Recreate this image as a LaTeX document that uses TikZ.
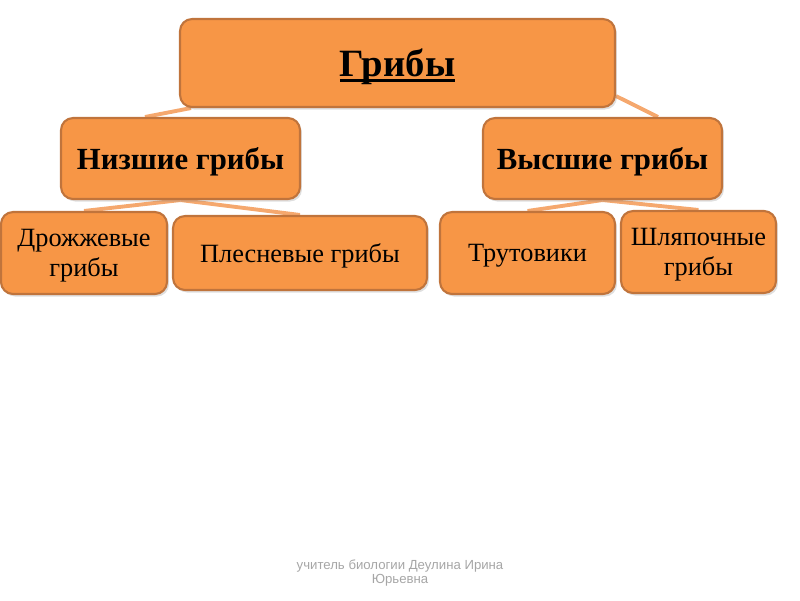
\documentclass[tikz,border=0pt]{standalone}
\usepackage{fontspec}
\setmainfont{Liberation Serif}
\newfontfamily\footfont{Liberation Sans}
\usepackage{tikz}
\usepackage{xcolor}
\usetikzlibrary{shadows,backgrounds}

\definecolor{boxfill}{HTML}{F79646}
\definecolor{boxline}{HTML}{C0743C}
\definecolor{linkcol}{HTML}{F5A86E}

% thick underline for the title
\newcommand{\thickul}[1]{\setbox0\hbox{#1}\rlap{\rule[-3pt]{\wd0}{1.5pt}}\box0}

\tikzset{
  box/.style={draw=boxline, line width=1.2pt, fill=boxfill, rounded corners=0.24cm,
    align=center, inner sep=2pt, text depth=0pt,
    drop shadow={opacity=0.25, shadow xshift=0.04cm, shadow yshift=-0.05cm}},
  link/.style={draw=linkcol, line width=2.2pt}
}

\begin{document}
\begin{tikzpicture}[x=0.02cm, y=-0.02cm]
  % Page frame 800 x 600
  \useasboundingbox (0,0) rectangle (800,600);

  % Top level
  \node[box, minimum width=8.7cm, minimum height=1.76cm, font=\fontsize{22}{26}\selectfont\bfseries]
    (gribs) at (397.5,63) {\thickul{Грибы}};

  % Second level
  \node[box, minimum width=4.78cm, minimum height=1.62cm, font=\fontsize{17.5}{20}\selectfont\bfseries]
    (nizshie) at (180.5,158.5) {Низшие грибы};
  \node[box, minimum width=4.78cm, minimum height=1.62cm, font=\fontsize{17.5}{20}\selectfont\bfseries]
    (vysshie) at (602.5,158.5) {Высшие грибы};

  % Third level
  \node[box, minimum width=3.32cm, minimum height=1.64cm, font=\fontsize{15}{17}\selectfont]
    (drozh) at (84,253) {Дрожжевые\\грибы};
  \node[box, minimum width=5.08cm, minimum height=1.48cm, font=\fontsize{15}{17}\selectfont]
    (plesn) at (300,253) {Плесневые грибы};
  \node[box, minimum width=3.5cm, minimum height=1.64cm, font=\fontsize{15}{17}\selectfont]
    (trut) at (527.5,253) {Трутовики};
  \node[box, minimum width=3.1cm, minimum height=1.64cm, font=\fontsize{15}{17}\selectfont]
    (shlyap) at (698.5,252) {Шляпочные\\грибы};

  % Connectors behind the boxes
  \begin{scope}[on background layer]
    \draw[link] ([xshift=0.24cm]gribs.south west) -- ([xshift=-0.71cm]nizshie.north);
    \draw[link] ([yshift=0.24cm]gribs.south east) -- ([xshift=1.11cm]vysshie.north);
    \draw[link] (nizshie.south) -- (drozh.north);
    \draw[link] (nizshie.south) -- (plesn.north);
    \draw[link] (vysshie.south) -- (trut.north);
    \draw[link] (vysshie.south) -- (shlyap.north);
  \end{scope}

  % Footer
  \node[text=gray!70, align=center, font=\footfont\fontsize{7.5}{8.5}\selectfont]
    (footer) at (400,573) {учитель биологии Деулина Ирина\\Юрьевна};
\end{tikzpicture}
\end{document}
